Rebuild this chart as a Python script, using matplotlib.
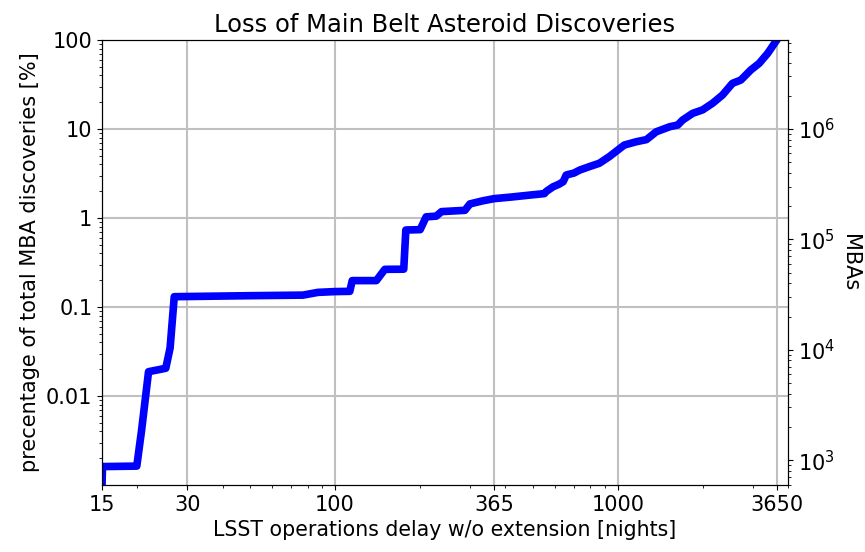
import numpy as np
import matplotlib
matplotlib.use('Agg')
import matplotlib.pyplot as plt

# delay in nights vs. percentage of MBA discoveries lost
delay_nights = [15, 15.05, 19.9, 20.7, 21.9, 25.2, 26.1, 27.0, 50, 77, 87, 100, 112.8, 115,
                140, 150, 175, 178, 200, 210, 228, 238, 288, 300, 333, 365, 420, 489, 550, 560,
                590, 620, 641, 657, 700, 734, 792, 860, 933, 1000, 1054, 1164, 1263, 1367, 1525,
                1630, 1695, 1840, 1995, 2165, 2346, 2544, 2724, 2953, 3163, 3389, 3650]
loss_pct = [0.00105, 0.00161, 0.00163, 0.00415, 0.01875, 0.0205, 0.0346, 0.1306, 0.134, 0.136,
            0.146, 0.149, 0.150, 0.198, 0.198, 0.265, 0.266, 0.733, 0.74, 1.03, 1.05, 1.18, 1.22,
            1.44, 1.56, 1.65, 1.72, 1.81, 1.88, 2.0, 2.24, 2.4, 2.56, 3.04, 3.2, 3.46, 3.77, 4.12,
            4.89, 5.8, 6.6, 7.2, 7.6, 9.3, 10.6, 11.1, 12.6, 15.0, 16.4, 19.5, 24.1, 32.6, 35.5,
            46.0, 54.7, 70.8, 100]

x_ticks = [15, 30, 100, 365, 1000, 3650]
x_ticklabels = ['15', '30', '100', '365', '1000', '3650']
y_ticks = [0.01, 0.1, 1, 10, 100]
y_ticklabels = ['0.01', '0.1', '1', '10', '100']

FS = 15

fig, ax = plt.subplots(figsize=(8.65, 5.52), dpi=100)
fig.subplots_adjust(left=0.118, right=0.911, top=0.9275, bottom=0.1214)

ax.plot(delay_nights, loss_pct, color='blue', linewidth=5.5, solid_joinstyle='round')
ax.set_xscale('log')
ax.set_yscale('log')
ax.set_xlim(15, 4000)
ax.set_ylim(0.001, 100)
ax.set_xticks(x_ticks)
ax.set_xticklabels(x_ticklabels)
ax.set_yticks(y_ticks)
ax.set_yticklabels(y_ticklabels)
ax.tick_params(labelsize=FS)
ax.grid(True, which='major', color='#c0c0c0', linewidth=1.5)

ax.set_xlabel('LSST operations delay w/o extension [nights]', fontsize=14.8)
ax.set_ylabel('precentage of total MBA discoveries [%]', fontsize=FS)
ax.set_title('Loss of Main Belt Asteroid Discoveries', fontsize=17.5)

ax2 = ax.twinx()
ax2.set_yscale('log')
ax2.set_ylim(595, 6.4e6)
ax2.tick_params(labelsize=FS)
ax2.set_ylabel('MBAs', fontsize=FS, rotation=270, labelpad=18)

plt.savefig('out.png', dpi=100)
